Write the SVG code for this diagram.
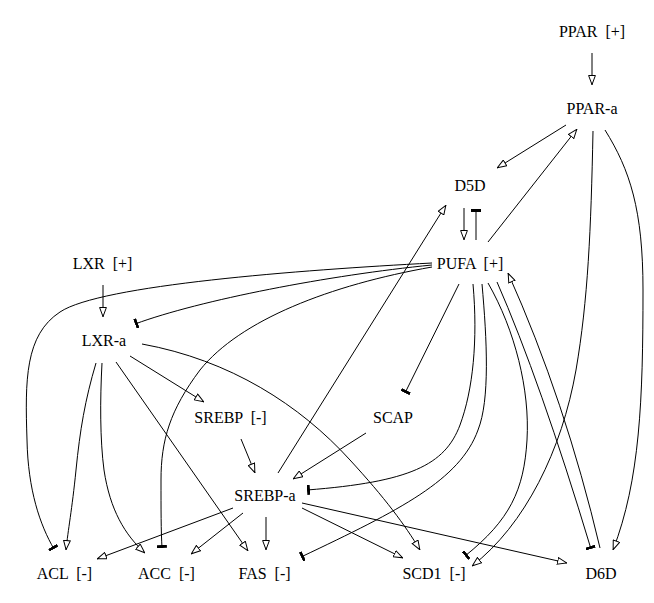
<svg xmlns="http://www.w3.org/2000/svg" width="654" height="603" viewBox="0 0 654 603">
<style>
  .lbl { font-family: "Liberation Serif", "Times New Roman", serif; font-size: 16px; fill: #000; text-anchor: middle; white-space: pre; }
  .e { fill: none; stroke: #000; stroke-width: 1; }
  .a { marker-end: url(#arr); }
  .t { marker-end: url(#tee); }
</style>
<defs>
  <marker id="arr" viewBox="0 0 10 8" refX="10" refY="4" markerWidth="10" markerHeight="8" orient="auto" markerUnits="userSpaceOnUse">
    <path d="M0.5,0.6 L9.6,4 L0.5,7.4 Z" fill="#fff" stroke="#000" stroke-width="1"/>
  </marker>
  <marker id="tee" viewBox="0 0 3 10" refX="3" refY="5" markerWidth="3" markerHeight="10" orient="auto" markerUnits="userSpaceOnUse">
    <rect x="0" y="0" width="3" height="10" fill="#000"/>
  </marker>
</defs>
<rect width="654" height="603" fill="#fff"/>
<g id="edges">
  <path class="e a" d="M592,53 L592,85"/>
  <path class="e a" d="M566,125 L497,168"/>
  <path class="e a" d="M488,242 L577,129"/>
  <path class="e a" d="M593,131 C591,230 588,300 576,370 C562,450 525,525 472,566"/>
  <path class="e a" d="M605,130 C630,170 643,210 643,290 C643,400 640,480 613,550"/>
  <path class="e a" d="M464,208 L464,240"/>
  <path class="e t" d="M476,240 L476,209"/>
  <path class="e a" d="M278,473 L446,205"/>
  <path class="e a" d="M103,285 L103,317"/>
  <path class="e t" d="M432,265 C330,275 200,300 135,324"/>
  <path class="e t" d="M432,263 C300,270 100,285 60,312 C25,335 25,380 27,440 C28,490 40,525 54,549"/>
  <path class="e t" d="M432,267 C330,285 240,320 200,370 C170,410 161,440 161,480 C161,510 161,530 162,548"/>
  <path class="e a" d="M96,363 C85,400 80,430 76,470 C72,510 68,530 66,550"/>
  <path class="e a" d="M102,363 C100,400 100,440 104,470 C110,510 125,535 145,553"/>
  <path class="e a" d="M116,362 L248,551"/>
  <path class="e a" d="M130,356 L204,402"/>
  <path class="e a" d="M142,344 C230,360 300,405 350,460 C385,498 405,525 420,550"/>
  <path class="e a" d="M241,439 L255,473"/>
  <path class="e a" d="M366,433 L293,479"/>
  <path class="e t" d="M459,284 L405,393"/>
  <path class="e t" d="M473,284 C478,340 473,390 460,425 C445,465 410,482 307,490"/>
  <path class="e t" d="M482,284 C487,340 490,400 478,430 C460,480 400,510 301,557"/>
  <path class="e t" d="M488,283 C515,330 530,390 527,440 C524,490 510,520 465,556"/>
  <path class="e t" d="M497,282 Q540,380 591,549"/>
  <path class="e a" d="M600,548 Q565,400 508,273"/>
  <path class="e a" d="M233,508 L97,559"/>
  <path class="e a" d="M243,513 L191,554"/>
  <path class="e a" d="M266,517 L266,550"/>
  <path class="e a" d="M302,508 L403,558"/>
  <path class="e a" d="M302,503 L567,563"/>
</g>
<g id="PPAR"><text class="lbl" x="592" y="37" xml:space="preserve">PPAR  [+]</text></g>
<g id="PPAR-a"><text class="lbl" x="592" y="114">PPAR-a</text></g>
<g id="D5D"><text class="lbl" x="470" y="191">D5D</text></g>
<g id="PUFA"><text class="lbl" x="470" y="268.5" xml:space="preserve">PUFA  [+]</text></g>
<g id="LXR"><text class="lbl" x="102.5" y="268.5" xml:space="preserve">LXR  [+]</text></g>
<g id="LXR-a"><text class="lbl" x="104" y="345.5">LXR-a</text></g>
<g id="SREBP"><text class="lbl" x="230.5" y="423" xml:space="preserve">SREBP  [-]</text></g>
<g id="SCAP"><text class="lbl" x="393" y="423">SCAP</text></g>
<g id="SREBP-a"><text class="lbl" x="265" y="501">SREBP-a</text></g>
<g id="ACL"><text class="lbl" x="64.5" y="579" xml:space="preserve">ACL  [-]</text></g>
<g id="ACC"><text class="lbl" x="166.5" y="579" xml:space="preserve">ACC  [-]</text></g>
<g id="FAS"><text class="lbl" x="264.5" y="579" xml:space="preserve">FAS  [-]</text></g>
<g id="SCD1"><text class="lbl" x="434" y="579" xml:space="preserve">SCD1  [-]</text></g>
<g id="D6D"><text class="lbl" x="601" y="579">D6D</text></g>
</svg>
